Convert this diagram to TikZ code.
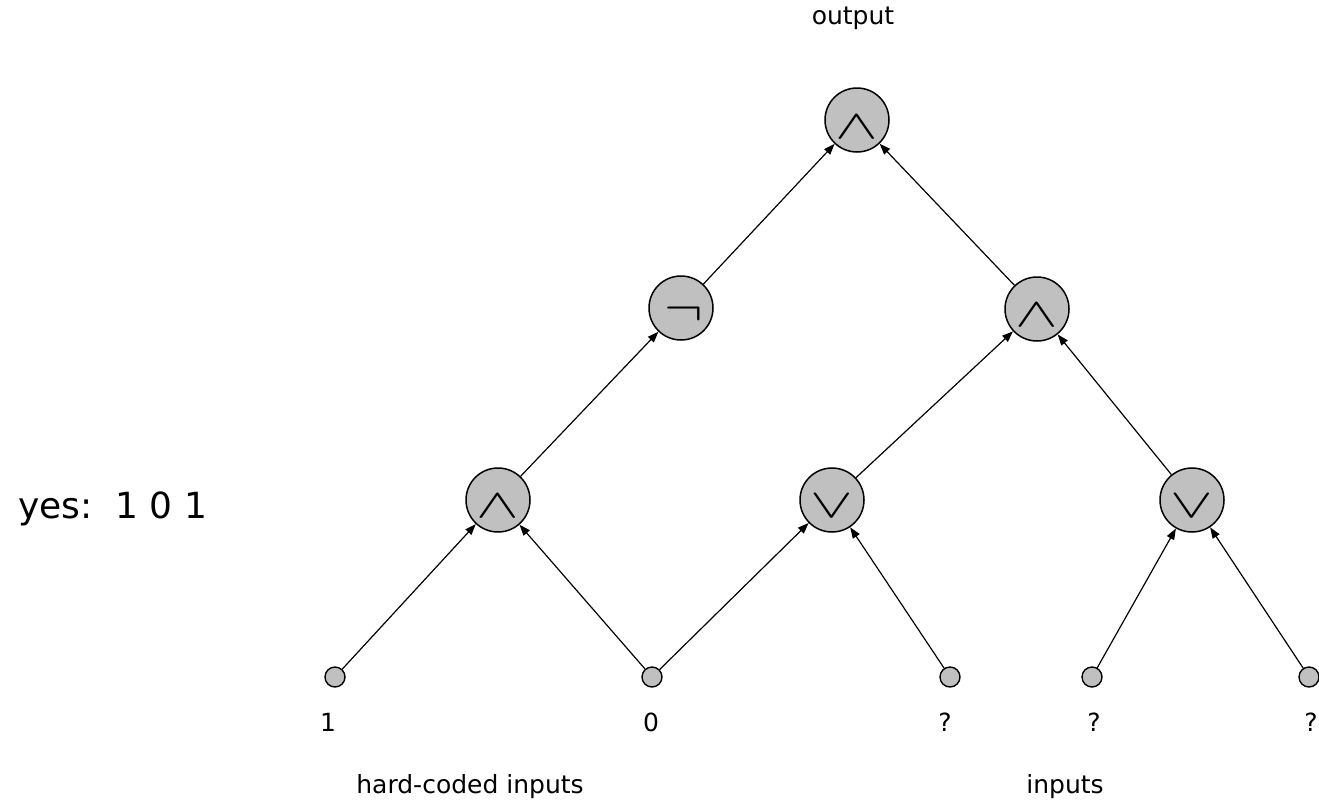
\documentclass[tikz,border=0pt]{standalone}
\usepackage{fontspec}
\setmainfont{DejaVu Sans}
\usepackage{graphicx}
\usetikzlibrary{arrows.meta}
\definecolor{gatefill}{RGB}{192,192,192}
\tikzset{
  gate/.style={circle, draw=black, line width=1.5pt, fill=gatefill, minimum size=64pt, inner sep=0pt},
  leaf/.style={circle, draw=black, line width=1.4pt, fill=gatefill, minimum size=20pt, inner sep=0pt},
  sym/.style={inner sep=0pt},
  lbl/.style={font=\fontsize{25}{25}\selectfont, inner sep=0pt},
  wire/.style={line width=1.2pt, -{Triangle[length=11pt,width=8pt]}}
}
\newcommand{\gsym}[1]{\scalebox{6.4}[4.1]{$#1$}}
\begin{document}
\begin{tikzpicture}[x=1pt,y=-1pt]
\useasboundingbox (0,0) rectangle (1319,809);
% gates
\node[gate] (g0) at (857,120) {};
\node[gate] (g1) at (681,308) {};
\node[gate] (g2) at (1037,309) {};
\node[gate] (g3) at (498,500) {};
\node[gate] (g4) at (832,500) {};
\node[gate] (g5) at (1192,500) {};
\node[sym] (s0) at (857,127) {\gsym{\wedge}};
\node[sym] (s1) at (684,314) {\scalebox{5.8}[5.2]{$\neg$}};
\node[sym] (s2) at (1037,315) {\gsym{\wedge}};
\node[sym] (s3) at (498,506) {\gsym{\wedge}};
\node[sym] (s4) at (832,506) {\gsym{\vee}};
\node[sym] (s5) at (1192,506) {\gsym{\vee}};
% leaves
\node[leaf] (l1) at (335,677) {};
\node[leaf] (l2) at (652,677) {};
\node[leaf] (l3) at (950,677) {};
\node[leaf] (l4) at (1092,677) {};
\node[leaf] (l5) at (1309,677) {};
% wires
\draw[wire] (l1) -- (g3);
\draw[wire] (l2) -- (g3);
\draw[wire] (l2) -- (g4);
\draw[wire] (l3) -- (g4);
\draw[wire] (l4) -- (g5);
\draw[wire] (l5) -- (g5);
\draw[wire] (g3) -- (g1);
\draw[wire] (g4) -- (g2);
\draw[wire] (g5) -- (g2);
\draw[wire] (g1) -- (g0);
\draw[wire] (g2) -- (g0);
% labels
\node[lbl] (t1) at (328,722) {1};
\node[lbl] (t2) at (651,722) {0};
\node[lbl] (t3) at (945,722) {?};
\node[lbl] (t4) at (1094,722) {?};
\node[lbl] (t5) at (1311,722) {?};
\node[lbl] (out) at (853,18) {output};
\node[lbl] (hc) at (470,787) {hard-coded inputs};
\node[lbl] (in) at (1065,787) {inputs};
\node[font=\fontsize{36}{36}\selectfont, inner sep=0pt, anchor=base west] (yes) at (18,518) {yes:\ \ 1 0 1};
\end{tikzpicture}
\end{document}
